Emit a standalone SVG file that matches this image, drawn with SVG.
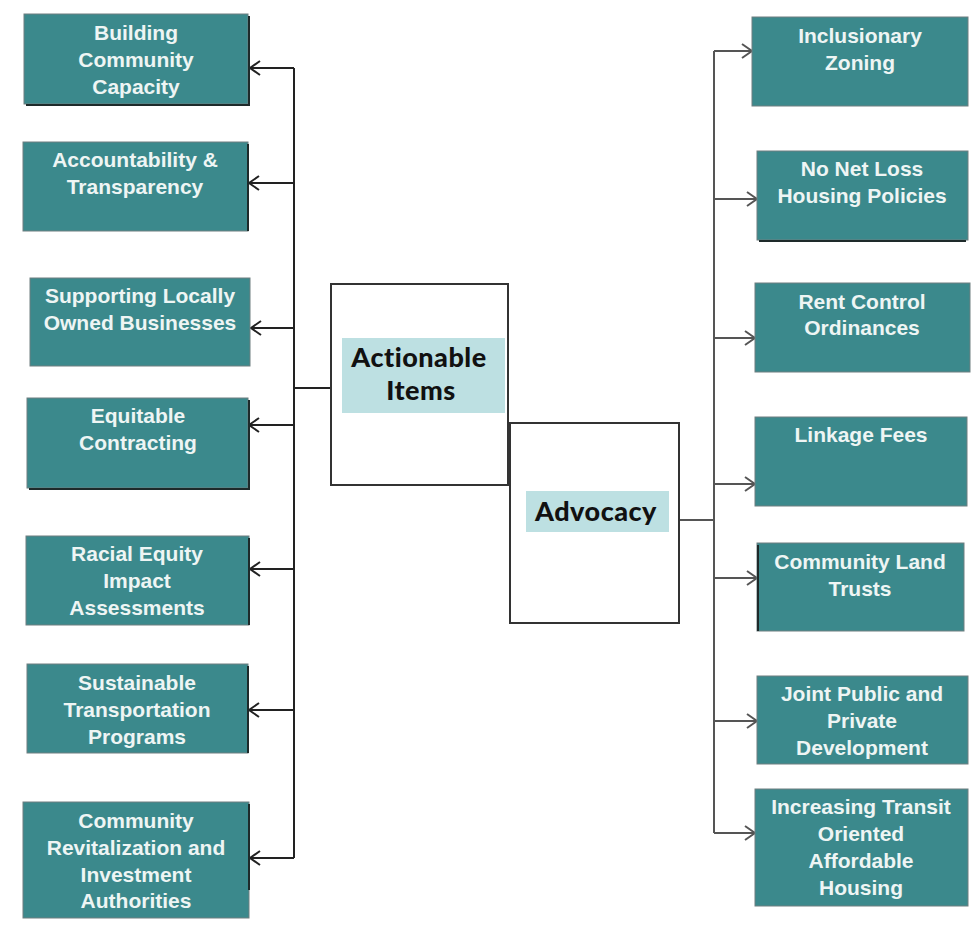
<svg xmlns="http://www.w3.org/2000/svg" width="980" height="930" viewBox="0 0 980 930">
<style>
.box{fill:#3b898c;stroke:#6f7f80;stroke-width:1}
.sh{fill:none;stroke:#1e2a2a;stroke-width:2}
.t{font-family:"Liberation Sans",Arial,sans-serif;font-weight:bold;font-size:21px;fill:#eef5f4;text-anchor:middle}
.hub{fill:#ffffff;stroke:#333;stroke-width:2}
.hl{fill:#bde0e2}
.ht{font-family:"Lato","DejaVu Sans",sans-serif;font-weight:900;font-size:27px;letter-spacing:0.5px;fill:#111;text-anchor:middle}
.cl{fill:none;stroke:#222;stroke-width:2}
.cr{fill:none;stroke:#555;stroke-width:2}
</style>
<defs>
<marker id="arrL" markerWidth="14" markerHeight="16" refX="12" refY="8" orient="auto" markerUnits="userSpaceOnUse">
<path d="M2,1 L12,8 L2,15" fill="none" stroke="#222" stroke-width="2"/>
</marker>
<marker id="arrR" markerWidth="14" markerHeight="16" refX="12" refY="8" orient="auto" markerUnits="userSpaceOnUse">
<path d="M2,1 L12,8 L2,15" fill="none" stroke="#555" stroke-width="2"/>
</marker>
</defs>
<rect width="980" height="930" fill="#ffffff"/>

<g id="connectors">
<path class="cl" d="M330,388 H294 M294,68 V858"/>
<line class="cl" x1="294" y1="68" x2="250" y2="68" marker-end="url(#arrL)"/>
<line class="cl" x1="294" y1="183" x2="249" y2="183" marker-end="url(#arrL)"/>
<line class="cl" x1="294" y1="328" x2="251" y2="328" marker-end="url(#arrL)"/>
<line class="cl" x1="294" y1="425" x2="249" y2="425" marker-end="url(#arrL)"/>
<line class="cl" x1="294" y1="569" x2="250" y2="569" marker-end="url(#arrL)"/>
<line class="cl" x1="294" y1="710" x2="249" y2="710" marker-end="url(#arrL)"/>
<line class="cl" x1="294" y1="858" x2="250" y2="858" marker-end="url(#arrL)"/>
<path class="cr" d="M679,520 H714 M714,51 V833"/>
<line class="cr" x1="714" y1="51" x2="752" y2="51" marker-end="url(#arrR)"/>
<line class="cr" x1="714" y1="199" x2="757" y2="199" marker-end="url(#arrR)"/>
<line class="cr" x1="714" y1="338" x2="755" y2="338" marker-end="url(#arrR)"/>
<line class="cr" x1="714" y1="484" x2="755" y2="484" marker-end="url(#arrR)"/>
<line class="cr" x1="714" y1="578" x2="757" y2="578" marker-end="url(#arrR)"/>
<line class="cr" x1="714" y1="721" x2="757" y2="721" marker-end="url(#arrR)"/>
<line class="cr" x1="714" y1="833" x2="755" y2="833" marker-end="url(#arrR)"/>
</g>

<g id="actionable-items">
<rect class="hub" x="331" y="284" width="177" height="201"/>
<rect class="hl" x="342" y="338" width="163" height="75"/>
<text class="ht" x="419" y="367">Actionable</text>
<text class="ht" x="421" y="400">Items</text>
</g>
<g id="advocacy">
<rect class="hub" x="510" y="423" width="169" height="200"/>
<rect class="hl" x="526" y="491" width="143" height="41"/>
<text class="ht" x="596" y="521">Advocacy</text>
</g>

<g id="building-community-capacity">
<rect class="box" x="24" y="14" width="224" height="90"/>
<path class="sh" d="M26,105 H249 V16"/>
<text class="t" x="136" y="40">Building</text>
<text class="t" x="136" y="67">Community</text>
<text class="t" x="136" y="94">Capacity</text>
</g>
<g id="accountability-transparency">
<rect class="box" x="23" y="142" width="225" height="89"/>
<path class="sh" d="M248,144 V231"/>
<text class="t" x="135" y="167">Accountability &amp;</text>
<text class="t" x="135" y="194">Transparency</text>
</g>
<g id="supporting-locally-owned-businesses">
<rect class="box" x="30" y="278" width="220" height="88"/>
<text class="t" x="140" y="303">Supporting Locally</text>
<text class="t" x="140" y="330">Owned Businesses</text>
</g>
<g id="equitable-contracting">
<rect class="box" x="27" y="398" width="221" height="90"/>
<path class="sh" d="M29,489 H249 V400"/>
<text class="t" x="138" y="423">Equitable</text>
<text class="t" x="138" y="450">Contracting</text>
</g>
<g id="racial-equity-impact-assessments">
<rect class="box" x="26" y="536" width="223" height="89"/>
<path class="sh" d="M249,538 V625"/>
<text class="t" x="137" y="561">Racial Equity</text>
<text class="t" x="137" y="588">Impact</text>
<text class="t" x="137" y="615">Assessments</text>
</g>
<g id="sustainable-transportation-programs">
<rect class="box" x="27" y="664" width="221" height="89"/>
<path class="sh" d="M248,666 V753"/>
<text class="t" x="137" y="690">Sustainable</text>
<text class="t" x="137" y="717">Transportation</text>
<text class="t" x="137" y="744">Programs</text>
</g>
<g id="community-revitalization">
<rect class="box" x="23" y="802" width="226" height="116"/>
<path class="sh" d="M249,804 V890"/>
<text class="t" x="136" y="828">Community</text>
<text class="t" x="136" y="855">Revitalization and</text>
<text class="t" x="136" y="882">Investment</text>
<text class="t" x="136" y="908">Authorities</text>
</g>

<g id="inclusionary-zoning">
<rect class="box" x="752" y="17" width="216" height="89"/>
<text class="t" x="860" y="43">Inclusionary</text>
<text class="t" x="860" y="70">Zoning</text>
</g>
<g id="no-net-loss">
<rect class="box" x="757" y="151" width="211" height="89"/>
<path class="sh" d="M759,241 H966"/>
<text class="t" x="862" y="176">No Net Loss</text>
<text class="t" x="862" y="203">Housing Policies</text>
</g>
<g id="rent-control">
<rect class="box" x="755" y="283" width="215" height="89"/>
<text class="t" x="862" y="309">Rent Control</text>
<text class="t" x="862" y="335">Ordinances</text>
</g>
<g id="linkage-fees">
<rect class="box" x="755" y="417" width="212" height="89"/>
<text class="t" x="861" y="442">Linkage Fees</text>
</g>
<g id="community-land-trusts">
<rect class="box" x="757" y="543" width="207" height="88"/>
<path class="sh" d="M758,545 V631"/>
<text class="t" x="860" y="569">Community Land</text>
<text class="t" x="860" y="596">Trusts</text>
</g>
<g id="joint-public-private">
<rect class="box" x="757" y="676" width="211" height="88"/>
<text class="t" x="862" y="701">Joint Public and</text>
<text class="t" x="862" y="728">Private</text>
<text class="t" x="862" y="755">Development</text>
</g>
<g id="increasing-transit">
<rect class="box" x="755" y="789" width="213" height="117"/>
<text class="t" x="861" y="814">Increasing Transit</text>
<text class="t" x="861" y="841">Oriented</text>
<text class="t" x="861" y="868">Affordable</text>
<text class="t" x="861" y="895">Housing</text>
</g>
</svg>
